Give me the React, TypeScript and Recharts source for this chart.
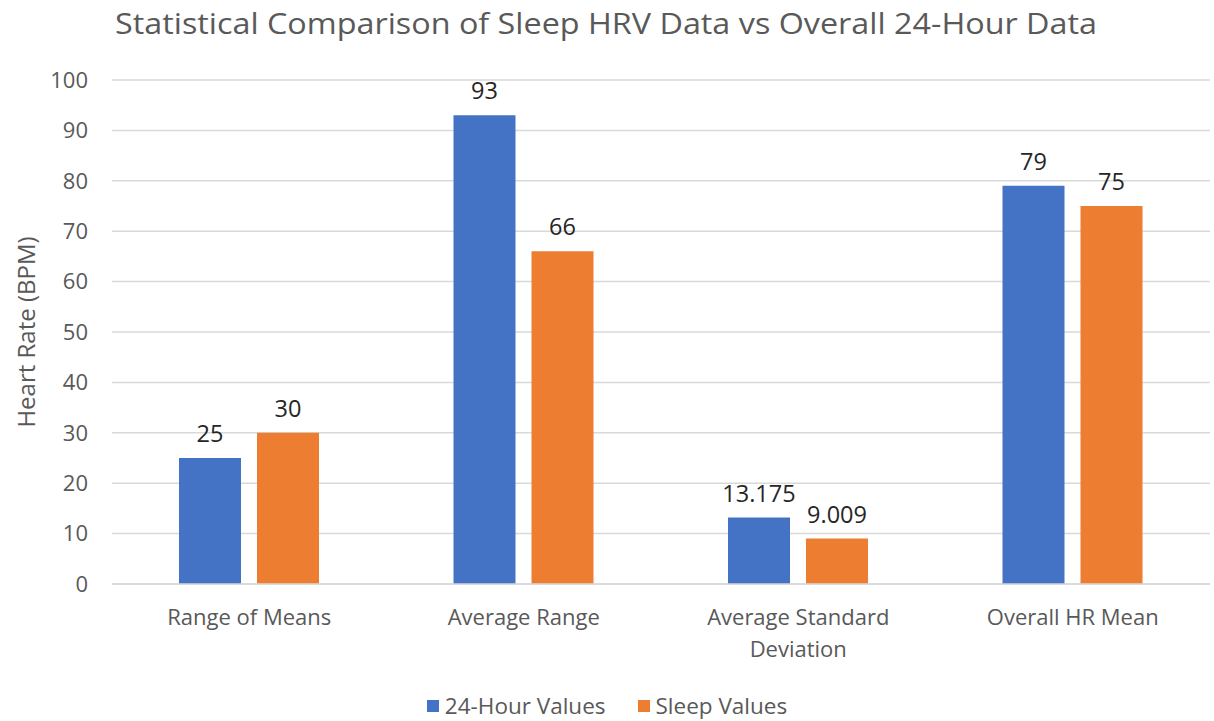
import React from "react";
import { BarChart, Bar, XAxis, YAxis, CartesianGrid, LabelList } from "recharts";

const categories = ["Range of Means", "Average Range", "Average Standard Deviation", "Overall HR Mean"];
const hour24Values = [25, 93, 13.175, 79];
const sleepValues = [30, 66, 9.009, 75];
const yTicks = [0, 10, 20, 30, 40, 50, 60, 70, 80, 90, 100];
const seriesNames = ["24-Hour Values", "Sleep Values"];

const data = categories.map((c, i) => ({ name: c, h24: hour24Values[i], sleep: sleepValues[i] }));

const FONT = "'Open Sans', 'Noto Sans', sans-serif";
const GRAY = "#595959";
const BLUE = "#4472C4";
const ORANGE = "#ED7D31";

function wrap(label: string): string[] {
  if (label.length <= 18) return [label];
  const words = label.split(" ");
  const lines: string[] = [];
  let cur = "";
  for (const w of words) {
    const t = cur ? cur + " " + w : w;
    if (t.length > 18 && cur) {
      lines.push(cur);
      cur = w;
    } else cur = t;
  }
  if (cur) lines.push(cur);
  return lines;
}

const XTick = (props: any) => {
  const { x, y, payload } = props;
  const lines = wrap(String(payload.value));
  return (
    <g>
      {lines.map((l, i) => (
        <text key={i} x={x} y={y + 33 + i * 32} textAnchor="middle" fill={GRAY} fontSize={22} fontFamily={FONT}>
          {l}
        </text>
      ))}
    </g>
  );
};

const fmt = (v: any) => String(v);

export default function App() {
  return (
    <div style={{ position: "absolute", left: 0, top: 0, width: 1214, height: 721, background: "#fff" }}>
      <svg width={1214} height={60} style={{ position: "absolute", left: 0, top: 0 }}>
        <text x={606} y={34} textAnchor="middle" fill={GRAY} fontSize={30} fontFamily={FONT}
          textLength={982} lengthAdjust="spacingAndGlyphs">
          Statistical Comparison of Sleep HRV Data vs Overall 24-Hour Data
        </text>
      </svg>
      <div style={{ position: "absolute", left: 0, top: 0 }}>
        <BarChart
          width={1214}
          height={721}
          data={data}
          margin={{ top: 80, right: 4, bottom: 107, left: 0 }}
          barGap={16}
          barSize={62}
        >
          <CartesianGrid vertical={false} stroke="#d9d9d9" strokeWidth={1.5} />
          <YAxis
            width={112}
            domain={[0, 100]}
            ticks={yTicks}
            axisLine={false}
            tickLine={false}
            tickSize={0}
            tickMargin={24}
            interval={0}
            tick={{ fill: GRAY, fontSize: 22, fontFamily: FONT }}
            label={{
              value: "Heart Rate (BPM)",
              angle: -90,
              position: "insideLeft",
              offset: 26,
              style: { textAnchor: "middle", fill: GRAY, fontSize: 24, fontFamily: FONT },
            }}
          />
          <XAxis
            dataKey="name"
            axisLine={{ stroke: "#d9d9d9", strokeWidth: 1.5 }}
            tickLine={false}
            tick={<XTick />}
            interval={0}
          />
          <Bar dataKey="h24" name={seriesNames[0]} fill={BLUE} isAnimationActive={false}>
            <LabelList dataKey="h24" position="top" offset={16} formatter={fmt}
              style={{ fill: "#262626", fontSize: 23.5, fontFamily: FONT }} />
          </Bar>
          <Bar dataKey="sleep" name={seriesNames[1]} fill={ORANGE} isAnimationActive={false}>
            <LabelList dataKey="sleep" position="top" offset={16} formatter={fmt}
              style={{ fill: "#262626", fontSize: 23.5, fontFamily: FONT }} />
          </Bar>
        </BarChart>
      </div>
      <div
        style={{
          position: "absolute",
          left: 0,
          top: 690,
          width: 1214,
          display: "flex",
          justifyContent: "center",
          alignItems: "center",
          fontFamily: FONT,
          fontSize: 22.5,
          color: GRAY,
        }}
      >
        {seriesNames.map((n, i) => (
          <div key={n} style={{ display: "flex", alignItems: "center", marginRight: i === 0 ? 32 : 0 }}>
            <span style={{ width: 12, height: 12, background: i === 0 ? BLUE : ORANGE, marginRight: 6, display: "inline-block" }} />
            <span>{n}</span>
          </div>
        ))}
      </div>
    </div>
  );
}
